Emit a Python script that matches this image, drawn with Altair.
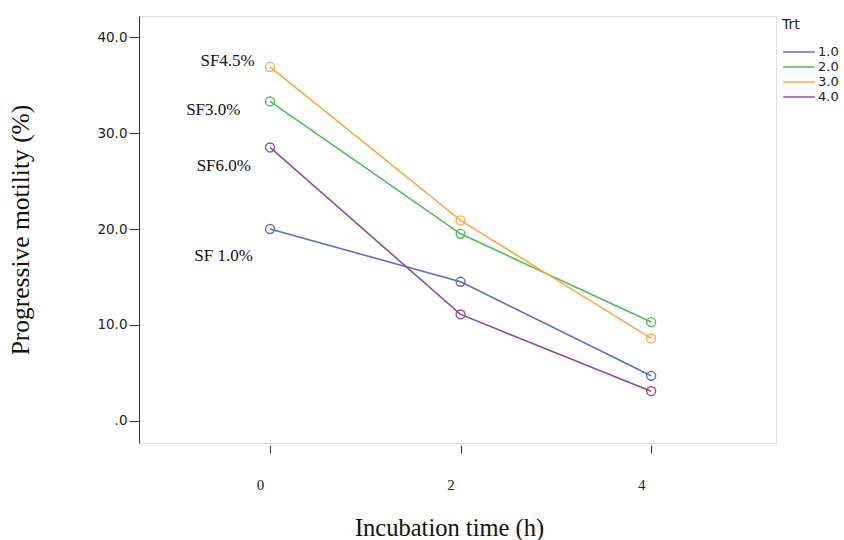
import altair as alt
import pandas as pd

# Progressive motility (%) over incubation time, one line per treatment
times = [0, 2, 4]
trt = ["1.0", "2.0", "3.0", "4.0"]
motility = {
    "1.0": [20.0, 14.5, 4.7],
    "2.0": [33.3, 19.5, 10.3],
    "3.0": [36.9, 20.9, 8.6],
    "4.0": [28.5, 11.1, 3.1],
}
colors = ["#5b70c2", "#4cbf5b", "#fcaa48", "#8e4d9e"]

# Inline labels placed just left of the first points
label_text = ["SF4.5%", "SF3.0%", "SF6.0%", "SF 1.0%"]
label_x = [-0.16, -0.31, -0.2, -0.18]
label_y = [37.5, 32.4, 26.6, 17.2]

rows = []
for t in trt:
    for h, v in zip(times, motility[t]):
        rows.append({"time": h, "motility": v, "Trt": t})
df = pd.DataFrame(rows)
labels = pd.DataFrame({"text": label_text, "x": label_x, "y": label_y})

x_scale = alt.Scale(domain=[-1.375, 5.31], nice=False, zero=False)
y_scale = alt.Scale(domain=[-2.3, 42.2], nice=False, zero=False)
color = alt.Color(
    "Trt:N",
    scale=alt.Scale(domain=trt, range=colors),
    legend=alt.Legend(
        title="Trt",
        orient="none",
        legendX=643,
        legendY=2,
        symbolType="stroke",
        symbolSize=1000,
        symbolStrokeWidth=1.5,
        clipHeight=14,
        labelFont="DejaVu Sans",
        labelFontSize=13,
        labelColor="#222",
        titleFont="DejaVu Sans",
        titleFontSize=14,
        titleFontWeight="normal",
        titleColor="#222",
        titlePadding=13,
        rowPadding=1,
        labelOffset=2,
    ),
)

x_enc = alt.X(
    "time:Q",
    scale=x_scale,
    axis=alt.Axis(
        title="Incubation time (h)",
        values=times,
        format="d",
        grid=False,
        domain=False,
        offset=2,
        tickSize=8,
        tickColor="#333",
        labelPadding=24,
        labelOffset=-10,
        labelFont="Liberation Serif",
        labelFontSize=15,
        labelColor="#222",
        titleFont="Liberation Serif",
        titleFontSize=24.5,
        titleFontWeight="normal",
        titleColor="#111",
        titlePadding=24,
        titleX=310,
    ),
)
y_enc = alt.Y(
    "motility:Q",
    scale=y_scale,
    axis=alt.Axis(
        title="Progressive motility (%)",
        values=[0, 10, 20, 30, 40],
        labelExpr="datum.value == 0 ? '.0' : format(datum.value, '.1f')",
        grid=False,
        domainColor="#333",
        tickColor="#333",
        tickSize=10,
        labelPadding=2,
        labelFont="DejaVu Sans",
        labelFontSize=13.5,
        labelColor="#222",
        titleFont="Liberation Serif",
        titleFontSize=25.5,
        titleFontWeight="normal",
        titleColor="#111",
        titlePadding=63,
    ),
)

lines = alt.Chart(df).mark_line(strokeWidth=1.6).encode(
    x=x_enc, y=y_enc, color=color, detail="Trt:N"
)
points = alt.Chart(df).mark_point(
    shape="circle", size=80, filled=False, strokeWidth=1.4, opacity=1
).encode(x="time:Q", y="motility:Q", color=alt.Color("Trt:N", legend=None))
text = alt.Chart(labels).mark_text(
    align="right", baseline="middle", font="Liberation Serif", fontSize=17, color="#111"
).encode(x=alt.X("x:Q", scale=x_scale), y=alt.Y("y:Q", scale=y_scale), text="text:N")

chart = (
    alt.layer(lines, points, text)
    .properties(
        width=637,
        height=427,
        autosize=alt.AutoSizeParams(type="none"),
        padding={"left": 139, "top": 16, "right": 68, "bottom": 97},
    )
    .configure_view(stroke="#333", strokeWidth=1.2)
    .configure(background="white")
)

chart.save("out.html", embed_options={"renderer": "svg", "actions": False})
